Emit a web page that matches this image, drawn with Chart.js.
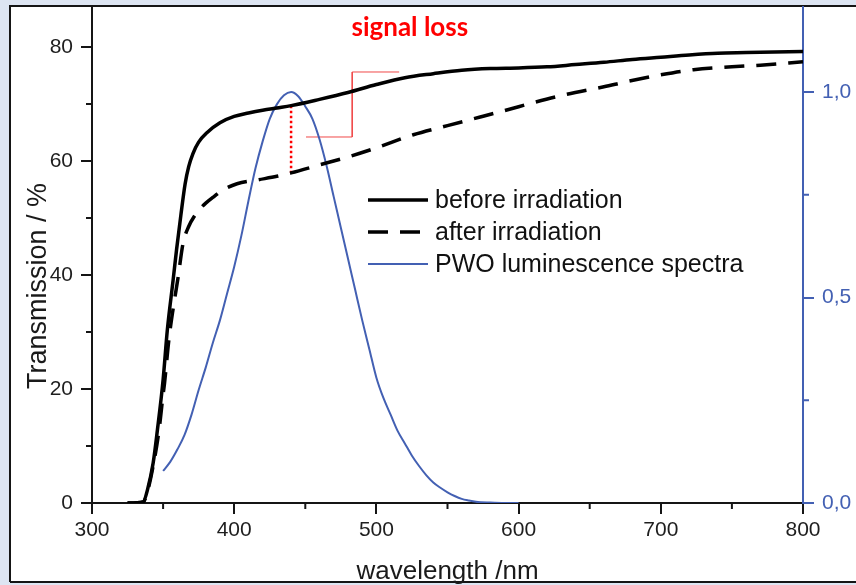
<!DOCTYPE html>
<html>
<head>
<meta charset="utf-8">
<script src="https://cdn.jsdelivr.net/npm/chart.js@4"></script>
<style>
html,body{margin:0;padding:0;background:#dde5f2;}
#c{position:absolute;left:0;top:0;}
</style>
</head>
<body>
<canvas id="c" width="856" height="585"></canvas>
<script>
// ---- data ----
const beforeNm  = [325,336,339,343,346,350,353,357,359.5,362.5,365.5,368,371,375,381,390,400,410,420,430,440,460,480,500,520,540,560,580,600,620,640,660,680,700,720,740,760,780,800];
const beforePct = [0,0.2,2.3,7,12.8,21.6,30.4,39,44.5,50.5,56,59,61.3,63.3,65,66.7,67.8,68.4,68.9,69.3,69.7,70.8,72.0,73.4,74.6,75.3,75.9,76.2,76.3,76.5,76.9,77.3,77.8,78.2,78.6,78.9,79.0,79.1,79.2];

const afterNm  = [325,336,339,343,347,350,351,354,357,360.5,364,368,372,376,380,386,392,402,417,430,440,460,480,500,526,550,573,600,610,634,660,676,700,723,750,770,800];
const afterPct = [0,0.2,2,6.5,12.5,19,21,28.5,34,39.5,45.5,48.5,50.3,51.6,52.6,53.8,54.9,56,56.7,57.3,57.9,59.3,60.7,62.3,64.6,66.2,67.7,69.5,70.2,71.7,73.0,73.9,75.1,76.0,76.5,76.8,77.4];

const pwoNm  = [350,355,360,365,370,375,380,385,390,395,400,405,410,415,420,425,430,435,440,445,450,455,460,465,470,475,480,485,490,495,500,505,510,515,520,525,530,535,540,545,550,555,560,565,570,580,590,600];
const pwoVal = [0.078,0.1,0.13,0.165,0.215,0.275,0.33,0.39,0.445,0.51,0.575,0.65,0.735,0.815,0.88,0.935,0.97,0.992,1.0,0.99,0.965,0.935,0.885,0.82,0.745,0.67,0.595,0.52,0.445,0.375,0.305,0.255,0.215,0.175,0.145,0.115,0.09,0.068,0.05,0.037,0.026,0.017,0.01,0.006,0.003,0.001,0,0];

const seriesLabels = ['before irradiation','after irradiation','PWO luminescence spectra'];
const lossNm = 440;                       // wavelength of the "signal loss" marker
const bracketNm  = [516,483,483,450.5];   // red bracket pointing at the marker
const bracketPct = [75.6,75.6,64.2,64.2];
const annotationText = 'signal loss';
const annotationPos = {x:523.5, y:83.3};

const xMinor  = [350,450,550,650,750];
const yMinor  = [10,30,50,70];
const y1Minor = [0.25,0.75];

const BLUE = '#4360b3';
const FONT = "'Liberation Sans', Arial, Helvetica, sans-serif";

const pts = (xs, ys) => xs.map((x,i)=>({x, y:ys[i]}));

const bgPlugin = {
  id:'bg',
  beforeDraw(chart){
    const c = chart.ctx; c.save();
    c.fillStyle = '#dde5f2'; c.fillRect(0,0,856,585);
    c.fillStyle = '#ffffff'; c.fillRect(10,6,846,576);
    c.strokeStyle = '#151515'; c.lineWidth = 2;
    c.beginPath();
    c.moveTo(10,582); c.lineTo(10,6); c.lineTo(857,6);
    c.moveTo(10,582); c.lineTo(857,582);
    c.stroke();
    c.restore();
  }
};

const decoPlugin = {
  id:'deco',
  afterDraw(chart){
    const c = chart.ctx;
    const xs = chart.scales.x, yl = chart.scales.y, yr = chart.scales.y1;
    c.save();
    // minor ticks
    c.lineWidth = 2; c.strokeStyle = '#151515';
    c.beginPath();
    xMinor.forEach(v=>{const p=xs.getPixelForValue(v); c.moveTo(p,xs.top); c.lineTo(p,xs.top+6);});
    yMinor.forEach(v=>{const p=yl.getPixelForValue(v); c.moveTo(yl.right-6,p); c.lineTo(yl.right,p);});
    c.stroke();
    c.strokeStyle = BLUE;
    c.beginPath();
    y1Minor.forEach(v=>{const p=yr.getPixelForValue(v); c.moveTo(yr.left,p); c.lineTo(yr.left+6,p);});
    c.stroke();

    // axis titles
    c.fillStyle = '#1a1a1a';
    c.font = '26px ' + FONT;
    c.textAlign = 'center'; c.textBaseline = 'alphabetic';
    c.fillText('wavelength /nm', (xs.left+xs.right)/2, 579);
    c.save();
    c.translate(46, 286);
    c.rotate(-Math.PI/2);
    c.font = '27px ' + FONT;
    c.fillText('Transmission / %', 0, 0);
    c.restore();

    // legend
    const lx0 = 368, lx1 = 428, ly = [200,232,264];
    const metas = [0,1,2].map(i=>chart.data.datasets[i]);
    c.font = '25px ' + FONT; c.textAlign = 'left'; c.textBaseline = 'middle';
    metas.forEach((ds,i)=>{
      c.save();
      c.strokeStyle = ds.borderColor;
      c.lineWidth = ds.borderWidth;
      c.setLineDash(ds.borderDash || []);
      c.beginPath(); c.moveTo(lx0, ly[i]); c.lineTo(lx1, ly[i]); c.stroke();
      c.restore();
      c.fillStyle = '#111';
      c.fillText(seriesLabels[i], 435, ly[i]+1);
    });

    // annotation text
    c.fillStyle = '#ff0000';
    c.font = 'bold 26px Lato, ' + FONT;
    c.textAlign = 'center'; c.textBaseline = 'middle';
    c.fillText(annotationText, xs.getPixelForValue(annotationPos.x), yl.getPixelForValue(annotationPos.y));
    c.restore();
  }
};

const lossTop = beforePct[beforeNm.indexOf(lossNm)];
const lossBottom = afterPct[afterNm.indexOf(lossNm)];

function fixBox(w, h){
  return function(s){
    if (w !== null) s.width = w;
    if (h !== null) s.height = h;
    s.paddingTop = 0; s.paddingBottom = 0; s.paddingLeft = 0; s.paddingRight = 0;
  };
}

new Chart(document.getElementById('c'), {
  type:'line',
  data:{
    datasets:[
      {label:seriesLabels[0], data:pts(beforeNm,beforePct), borderColor:'#000', borderWidth:3.5,
       pointRadius:0, cubicInterpolationMode:'monotone', yAxisID:'y'},
      {label:seriesLabels[1], data:pts(afterNm,afterPct), borderColor:'#000', borderWidth:3.5, borderDash:[20,12],
       pointRadius:0, cubicInterpolationMode:'monotone', yAxisID:'y'},
      {label:seriesLabels[2], data:pts(pwoNm,pwoVal), borderColor:BLUE, borderWidth:2,
       pointRadius:0, cubicInterpolationMode:'monotone', yAxisID:'y1'},
      {label:'loss', data:[{x:lossNm,y:lossTop},{x:lossNm,y:lossBottom}], borderColor:'#ff0000', borderWidth:2.5,
       borderDash:[2.5,2.5], pointRadius:0, tension:0, yAxisID:'y'},
      {label:'bracket', data:pts(bracketNm,bracketPct), borderColor:'#f04848', borderWidth:1,
       pointRadius:0, tension:0, yAxisID:'y'}
    ]
  },
  options:{
    responsive:false, animation:false, devicePixelRatio:1,
    layout:{padding:{top:7,left:0,right:0,bottom:0}},
    plugins:{legend:{display:false}, tooltip:{enabled:false}},
    scales:{
      x:{type:'linear', min:300, max:800,
         ticks:{stepSize:100, includeBounds:false, color:'#1e1e1e', font:{size:21, family:FONT}, padding:4, maxRotation:0},
         grid:{display:true, drawOnChartArea:false, drawTicks:true, tickLength:11, color:'#151515', lineWidth:2},
         border:{display:true, color:'#151515', width:2},
         afterFit: fixBox(null, 82)},
      y:{type:'linear', position:'left', min:0, max:87,
         ticks:{stepSize:20, includeBounds:false, color:'#1e1e1e', font:{size:21, family:FONT}, padding:8},
         grid:{display:true, drawOnChartArea:false, drawTicks:true, tickLength:11, color:'#151515', lineWidth:2},
         border:{display:true, color:'#151515', width:2},
         afterFit: fixBox(92, null)},
      y1:{type:'linear', position:'right', min:0, max:1.207,
         ticks:{stepSize:0.5, includeBounds:false, color:BLUE, font:{size:21, family:FONT}, padding:8,
                callback:v=>v.toFixed(1).replace('.',',')},
         grid:{display:true, drawOnChartArea:false, drawTicks:true, tickLength:11, color:BLUE, lineWidth:2},
         border:{display:true, color:BLUE, width:2},
         afterFit: fixBox(53, null)}
    }
  },
  plugins:[bgPlugin, decoPlugin]
});
</script>
</body>
</html>
